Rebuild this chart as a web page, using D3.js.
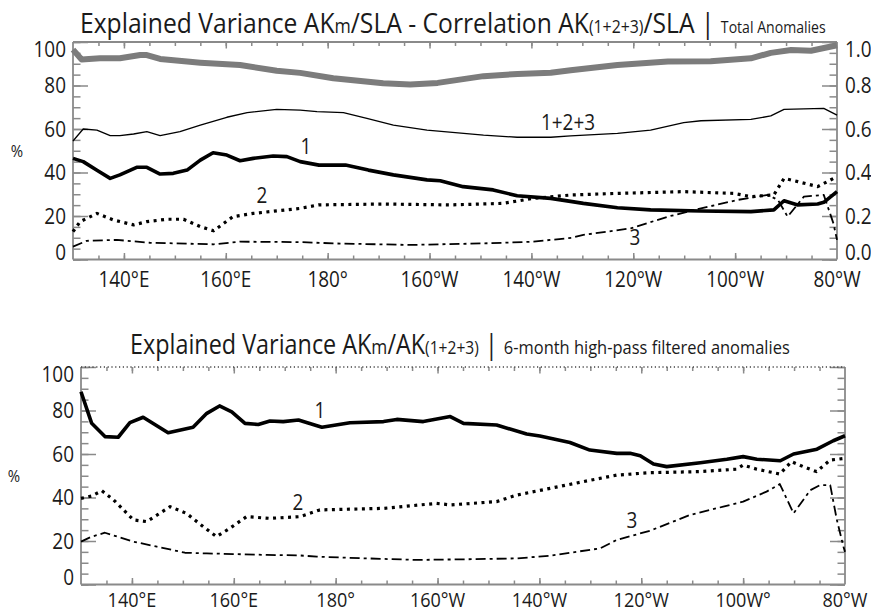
<!DOCTYPE html>
<html><head><meta charset="utf-8">
<script src="https://cdn.jsdelivr.net/npm/d3@7"></script>
<style>body{margin:0;background:#fff}svg{display:block}text{font-family:"Open Sans",sans-serif;fill:#1a1a1a}</style>
</head><body><svg id="c" width="871" height="613"></svg>
<script>
// ---------- axis ticks / labels ----------
const lonTicks = [140,160,180,200,220,240,260,280];
const lonLabelsTop = ["140°E","160°E","180°","160°W","140°W","120°W","100°W","80°W"];
const lonLabelsBottom = ["140°E","160°E","180°","160°W","140°W","120°W","100W°","80°W"];
const pctTicks = [0,20,40,60,80,100];
const pctLabels = ["0","20","40","60","80","100"];
const corrLabels = ["0.0","0.2","0.4","0.6","0.8","1.0"];

// ---------- top panel: total anomalies ----------
// correlation AK(1+2+3)/SLA (x100)
const corrLon = [130,131.7,135.3,139.2,143.2,144.5,147.1,152.4,155,162.8,170,174.6,181.1,190.9,196.2,201.6,210.6,217.3,223.8,227.7,236.9,246.8,255.2,263.1,267,271,274.9,280];
const corrVal = [96.5,92,92.5,92.5,94,94,92.2,91,90.5,89.4,86.8,85.8,83.3,81,80.5,81.2,84.3,85.3,85.9,87,89.4,91,91.2,92.5,95,96.3,96,98.5];
// explained variance 1+2+3
const sumLon = [130,132,134.7,137.3,139.2,141.9,144.5,147.1,151,155,160.2,164.2,170,174.6,177.9,183.1,187.7,192.9,199.5,210.6,217.2,223.8,227.7,236.9,243.4,249.9,253.3,263.1,267,269.6,277.4,280];
const sumVal = [54.5,60,59.5,57,57,57.7,58.8,57,58.8,61.8,65.4,67.5,69,68.7,68,67.5,64.9,61.8,59.5,57.2,56.2,56.2,56.8,58,59.5,62.9,63.8,64.4,66,69,69.5,66.4];
// mode 1
const t1Lon = [130,132,134.7,137.3,139.2,142.5,144.5,147.1,149.7,152.4,155,157.5,160.2,162.8,165.4,169.3,172,174.6,178.3,183.5,188,192.9,199.5,202.1,206.6,212.5,217.2,223.8,228,230.2,236.9,243.4,253.3,263.1,267.6,269.6,272.3,276.2,277.4,280];
const t1Val = [46.5,45,41,37.3,38.9,42.4,42.4,39.3,39.6,41.1,45.7,49.1,48,45.4,46.5,47.6,47.3,45,43.4,43.4,41.1,38.9,36.6,36.2,33.5,32,29.3,28.1,26.6,25.8,23.8,22.8,22.3,22,22.8,27,25.1,25.5,26.3,31.2];
// mode 2
const t2Lon = [130,131.4,134.7,137.9,141.9,144.5,148.4,151.7,155,157.6,161.4,165.4,174.6,178.2,191,204,214.4,220.4,228,236.9,249.9,259.7,263.1,267.6,269.6,272.3,276.2,280];
const t2Val = [12.8,17.4,21.2,18.2,15.9,17.4,18.5,18.5,15.1,13.2,19.7,21.2,23.5,25.1,25.5,25.1,25.8,28.1,29.7,30.4,31.2,30.4,28.9,29.7,37.3,35.8,33.5,38.1];
// mode 3
const t3Lon = [130,132.7,138.6,145.1,157.6,162.8,174.6,181.1,196.2,210.6,220.4,223.8,228,230.2,239.5,246.8,253.3,260.5,266.4,268.4,270.3,273.5,277.4,279.3,280];
const t3Val = [5.9,8.6,9,7.7,7,8.2,8,7.4,6.7,7.4,8.2,9,10,11.3,14.3,19.7,23.5,27.4,29.7,27.4,19.7,28.9,29.7,16.6,9];

// ---------- bottom panel: 6-month high-pass ----------
const b1Lon = [130,132.1,134.7,137.3,139.6,142.2,147.1,152,154.7,157.2,159.6,162.2,164.8,167.1,169.7,172.7,177.3,182.8,189.4,192,197.2,202.5,205.1,211.6,217.5,220.1,226,229.9,235.2,237.8,239.8,242.4,245,251.6,256.8,260,262.7,267.3,269.9,274.5,277.7,280];
const b1Val = [88.6,74.1,68,67.7,74.4,76.9,69.8,72.3,78.7,82.1,79.4,74.1,73.6,75.2,74.9,75.6,72.3,74.4,74.9,75.9,74.9,77.2,74.1,73.3,69.2,68.3,65.3,61.8,60.3,60.3,59.2,55.4,54.2,56,57.6,58.8,57.6,56.9,60,62.2,66.1,68.4];
const b2Lon = [130,132.1,134.1,136.4,140.3,142.9,147.5,150.7,154,156.6,159.2,162.5,167.1,173,176.9,189.4,199.8,202.5,211.6,215.5,222.1,228.6,235.2,241.7,251.5,258.7,260,262.7,267.2,269.5,271.8,274.4,277.1,280];
const b2Val = [39.6,40.7,43.1,38.9,29.7,28.9,35.8,32.7,26.6,22,25.8,31.2,30.4,31.2,34.3,35,37.3,36.6,38.1,41.1,44.2,47.3,50.3,51.4,51.9,53,54.9,53,50.8,56.5,54.2,51.9,57.2,58];
const b3Lon = [130,132.1,134.7,140.3,144.9,150.4,154.7,159.9,166.5,172.7,176.3,186.1,195.9,205.7,215.5,222.1,226,231.9,235.2,241.7,249.6,256.1,260,264.6,267.2,269.9,273.2,275.1,277.1,278.4,279.7,280];
const b3Val = [19.7,22,23.8,19.7,17.4,14.6,14.3,14,13.6,13.4,12.8,12,11.3,11.6,12,13.2,14.6,16.6,20.5,24.7,32,35.8,38.1,42.7,46.2,32.7,43.4,45.7,45.7,29.7,17.4,15];

// ---------- drawing ----------
const svg = d3.select("#c");
const axisColor = "#8a8a8a";
const SX = 0.88; // horizontal condensing of label font

function fitText(sel, x0, width, baseline){
  const w = sel.node().getComputedTextLength();
  sel.attr("transform", `translate(${x0},${baseline}) scale(${width/w},1)`);
}
function label(g, x, y, txt, anchor, size){
  return g.append("text").attr("transform",`translate(${x},${y}) scale(${SX},1)`)
    .attr("dy","0.36em").attr("text-anchor",anchor).attr("font-size",size).text(txt);
}

function panel(cfg){
  const x = d3.scaleLinear().domain([130,280]).range([cfg.left,cfg.right]);
  const y = d3.scaleLinear().domain([0,100]).range([cfg.bottom,cfg.top]);
  const g = svg.append("g");
  const minorY = d3.range(0,101,5);
  const minorX = d3.range(135,280,5);
  const styleAxis = s => { s.select(".domain").remove(); s.selectAll("line").attr("stroke",axisColor).attr("stroke-width",1.5); s.selectAll("text").remove(); };

  g.append("g").attr("transform",`translate(${cfg.left},0)`).call(d3.axisRight(y).tickValues(minorY).tickSize(7.5)).call(styleAxis);
  g.append("g").attr("transform",`translate(${cfg.left},0)`).call(d3.axisRight(y).tickValues(pctTicks).tickSize(15)).call(styleAxis);
  g.append("g").attr("transform",`translate(${cfg.right},0)`).call(d3.axisLeft(y).tickValues(minorY).tickSize(7.5)).call(styleAxis);
  g.append("g").attr("transform",`translate(${cfg.right},0)`).call(d3.axisLeft(y).tickValues(pctTicks).tickSize(15)).call(styleAxis);
  g.append("g").attr("transform",`translate(0,${cfg.bottom})`).call(d3.axisTop(x).tickValues(minorX).tickSize(4)).call(styleAxis);
  g.append("g").attr("transform",`translate(0,${cfg.bottom})`).call(d3.axisTop(x).tickValues(lonTicks.slice(0,-1)).tickSize(6.5)).call(styleAxis);
  g.append("g").attr("transform",`translate(0,${cfg.top})`).call(d3.axisBottom(x).tickValues(minorX).tickSize(4)).call(styleAxis);
  g.append("g").attr("transform",`translate(0,${cfg.top})`).call(d3.axisBottom(x).tickValues(lonTicks.slice(0,-1)).tickSize(6.5)).call(styleAxis);

  // frame
  const fr = g.append("g").attr("stroke",axisColor).attr("stroke-width",1.8).attr("fill","none");
  fr.append("line").attr("x1",cfg.left).attr("x2",cfg.left).attr("y1",cfg.top).attr("y2",cfg.bottom);
  fr.append("line").attr("x1",cfg.right).attr("x2",cfg.right).attr("y1",cfg.top).attr("y2",cfg.bottom);
  fr.append("line").attr("x1",cfg.left).attr("x2",cfg.right).attr("y1",cfg.bottom).attr("y2",cfg.bottom);
  const topLine = fr.append("line").attr("x1",cfg.left).attr("x2",cfg.right).attr("y1",cfg.top).attr("y2",cfg.top);
  if(cfg.dottedTop) topLine.attr("stroke","#444").attr("stroke-width",1.4).attr("stroke-dasharray","1.2,2.6");

  const clampY = v => Math.max(cfg.top+7, Math.min(cfg.bottom-7, y(v)));
  pctTicks.forEach((v,i)=> label(g, cfg.left-7, clampY(v), pctLabels[i], "end", 21.5));
  if(cfg.rightLabels) pctTicks.forEach((v,i)=> label(g, cfg.right+8, clampY(v), cfg.rightLabels[i], "start", 21.5));
  label(g, cfg.pctX, (cfg.top+cfg.bottom)/2, "%", "middle", 17);
  lonTicks.forEach((v,i)=> label(g, x(v), cfg.xLabelY, cfg.lonLabels[i], "middle", cfg.xLabelSize));

  const line = d3.line().x(d=>x(d[0])).y(d=>y(d[1]));
  cfg.series.forEach(s=>{
    g.append("path").datum(d3.zip(s.lon,s.val)).attr("d",line)
      .attr("fill","none").attr("stroke",s.color||"#000").attr("stroke-width",s.w)
      .attr("stroke-linejoin","round").attr("stroke-dasharray",s.dash||null);
  });
  cfg.labels.forEach(l=> label(g, l.x, l.y, l.t, "middle", 21.5));
}

const dot = "3,4.5", dashdot = "10,4,3,4";
panel({left:73,right:837,top:42,bottom:259.5,pctX:17,xLabelY:279,xLabelSize:21.5,lonLabels:lonLabelsTop,rightLabels:corrLabels,dottedTop:false,
  series:[
    {lon:corrLon,val:corrVal,w:6,color:"#7c7c7c"},
    {lon:sumLon,val:sumVal,w:1.3},
    {lon:t1Lon,val:t1Val,w:3.6},
    {lon:t2Lon,val:t2Val,w:3.2,dash:dot},
    {lon:t3Lon,val:t3Val,w:1.8,dash:dashdot}
  ],
  labels:[{x:568,y:122,t:"1+2+3"},{x:306,y:146,t:"1"},{x:262,y:195,t:"2"},{x:635,y:237,t:"3"}]
});
panel({left:81,right:845,top:367,bottom:584.5,pctX:14,xLabelY:600,xLabelSize:20.5,lonLabels:lonLabelsBottom,rightLabels:null,dottedTop:true,
  series:[
    {lon:b1Lon,val:b1Val,w:3.6},
    {lon:b2Lon,val:b2Val,w:3.2,dash:dot},
    {lon:b3Lon,val:b3Val,w:1.8,dash:dashdot}
  ],
  labels:[{x:320,y:410,t:"1"},{x:298,y:502,t:"2"},{x:632,y:520,t:"3"}]
});

// titles
const t1 = svg.append("text").attr("x",0).attr("y",0).attr("font-size",28);
t1.append("tspan").text("Explained Variance AK");
t1.append("tspan").attr("font-size",20).text("m");
t1.append("tspan").text("/SLA - Correlation AK");
t1.append("tspan").attr("font-size",18).text("(1+2+3)");
t1.append("tspan").text("/SLA");
t1.append("tspan").text(" | ");
t1.append("tspan").attr("font-size",16).text("Total Anomalies");
fitText(t1, 80, 746, 33);

const t2 = svg.append("text").attr("x",0).attr("y",0).attr("font-size",27);
t2.append("tspan").text("Explained Variance AK");
t2.append("tspan").attr("font-size",20).text("m");
t2.append("tspan").text("/AK");
t2.append("tspan").attr("font-size",18).text("(1+2+3)");
t2.append("tspan").text(" | ");
t2.append("tspan").attr("font-size",19).text("6-month high-pass filtered anomalies");
fitText(t2, 130, 660, 354);
</script></body></html>
